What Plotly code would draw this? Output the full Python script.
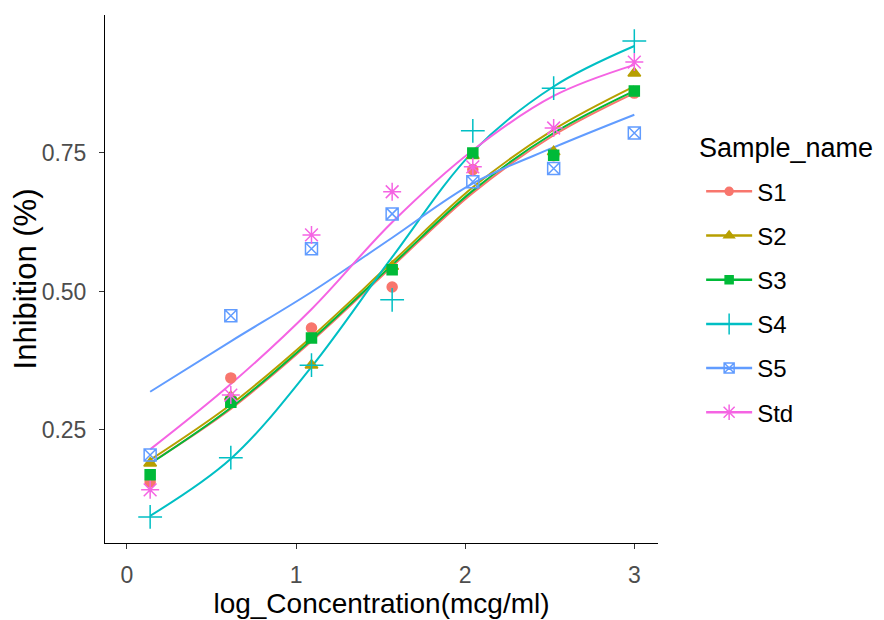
import plotly.graph_objects as go

# log10 of the concentrations (mcg/ml)
log_conc = [0.137, 0.614, 1.091, 1.568, 2.045, 2.523, 3.0]

samples = ["S1", "S2", "S3", "S4", "S5", "Std"]

# observed inhibition values (fraction)
obs_s1 = [0.156, 0.344, 0.434, 0.508, 0.720, 0.745, 0.858]
obs_s2 = [0.190, 0.310, 0.367, 0.545, 0.745, 0.752, 0.894]
obs_s3 = [0.169, 0.300, 0.416, 0.539, 0.750, 0.746, 0.862]
obs_s4 = [0.093, 0.200, 0.367, 0.485, 0.790, 0.867, 0.952]
obs_s5 = [0.205, 0.456, 0.577, 0.640, 0.698, 0.722, 0.786]
obs_std = [0.142, 0.313, 0.602, 0.680, 0.725, 0.795, 0.914]

# fitted curves at the same x positions
fit_s1 = [0.190, 0.288, 0.410, 0.545, 0.678, 0.782, 0.858]
fit_s2 = [0.196, 0.296, 0.418, 0.553, 0.688, 0.792, 0.870]
fit_s3 = [0.189, 0.290, 0.413, 0.548, 0.682, 0.786, 0.862]
fit_s4 = [0.095, 0.198, 0.364, 0.562, 0.752, 0.870, 0.943]
fit_s5 = [0.319, 0.410, 0.499, 0.597, 0.695, 0.760, 0.819]
fit_std = [0.215, 0.333, 0.468, 0.625, 0.755, 0.853, 0.909]

observed = [obs_s1, obs_s2, obs_s3, obs_s4, obs_s5, obs_std]
fitted = [fit_s1, fit_s2, fit_s3, fit_s4, fit_s5, fit_std]

COLORS = ['#F8766D', '#B79F00', '#00BA38', '#00BFC4', '#619CFF', '#F564E3']
SYMBOLS = ['circle', 'triangle-up', 'square', 'cross-thin-open', 'square-x-open', 'asterisk-open']
SIZES = [10, 11, 10, 17, 12, 15]

fig = go.Figure()

for name, fit, color in zip(samples, fitted, COLORS):
    fig.add_trace(go.Scatter(
        x=log_conc, y=fit, mode='lines', line=dict(color=color, width=2, shape='spline'),
        showlegend=False, hoverinfo='skip'
    ))

for name, obs, color, sym, size in zip(samples, observed, COLORS, SYMBOLS, SIZES):
    fig.add_trace(go.Scatter(
        x=log_conc, y=obs, mode='markers', name=name,
        marker=dict(color=color, symbol=sym, size=size, line=dict(color=color, width=1.5)),
        showlegend=False
    ))
    # legend-only entry with line + marker, like ggplot's key
    fig.add_trace(go.Scatter(
        x=[None], y=[None], mode='lines+markers', name=name, legendgroup=name,
        line=dict(color=color, width=2.5),
        marker=dict(color=color, symbol=sym, size=size - 2, line=dict(color=color, width=1.5))
    ))

axis_common = dict(
    showline=True, linecolor='black', linewidth=1, showgrid=False, zeroline=False,
    ticks='outside', ticklen=5, tickcolor='#333333',
    tickfont=dict(family='Liberation Sans', size=23, color='#4D4D4D'),
)

fig.update_xaxes(range=[-0.13, 3.14], tickvals=[0, 1, 2, 3], title_text='log_Concentration(mcg/ml)',
                 title_font=dict(family='Liberation Sans', size=28, color='black'),
                 ticklabelstandoff=6, title_standoff=6, **axis_common)
fig.update_yaxes(range=[0.046, 0.999], tickvals=[0.25, 0.50, 0.75], ticktext=['0.25', '0.50', '0.75'],
                 title_text='Inhibition (%)',
                 title_font=dict(family='Liberation Sans', size=31, color='black'),
                 ticklabelstandoff=8, title_standoff=6, **axis_common)

# body of the page adds an 8px margin, so the figure is a bit smaller
fig.update_layout(
    width=876, height=612,
    margin=dict(l=97, r=226, t=7, b=77),
    plot_bgcolor='white', paper_bgcolor='white',
    font=dict(family='Liberation Sans', color='black'),
    legend=dict(
        font=dict(size=24, color='black'),
        traceorder='grouped', tracegroupgap=10,
        x=1.078, xanchor='left', y=0.708, yanchor='top',
        itemwidth=46
    ),
    annotations=[dict(
        text='Sample_name', xref='paper', yref='paper', x=1.07, y=0.748,
        xanchor='left', yanchor='middle', showarrow=False,
        font=dict(family='Liberation Sans', size=27, color='black')
    )],
    showlegend=True
)

fig.write_html("out.html")
